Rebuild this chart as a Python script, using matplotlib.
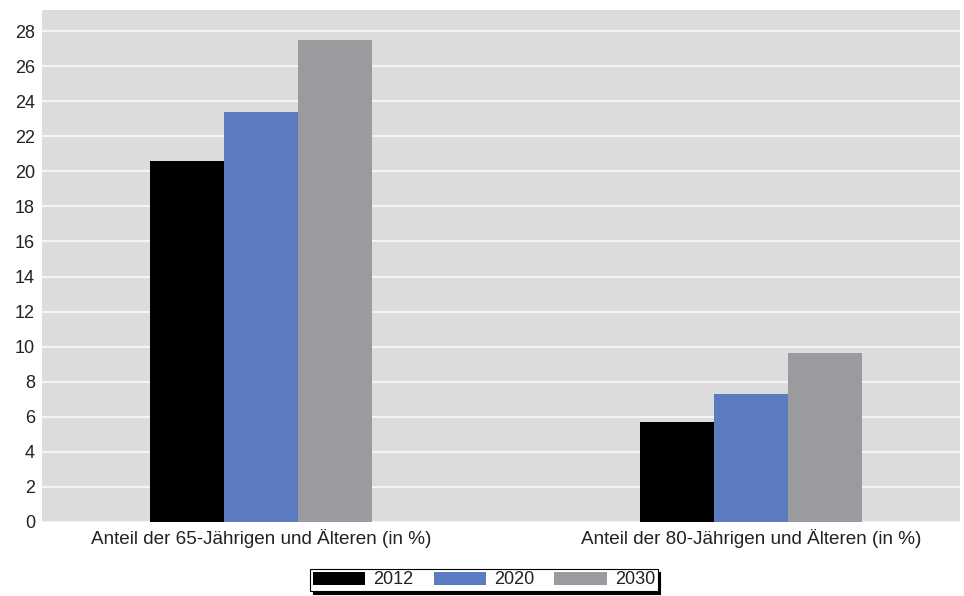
import matplotlib.pyplot as plt
import numpy as np

categories = ["Anteil der 65-Jährigen und Älteren (in %)",
              "Anteil der 80-Jährigen und Älteren (in %)"]
years = ["2012", "2020", "2030"]
values_2012 = [20.6, 5.7]
values_2020 = [23.4, 7.3]
values_2030 = [27.5, 9.65]
yticks = list(range(0, 29, 2))

colors = ["#000000", "#5b7cc0", "#9b9b9f"]

plt.rcParams['font.family'] = ['Liberation Sans', 'DejaVu Sans']

fig = plt.figure(figsize=(9.64, 5.96), dpi=100)
ax = fig.add_axes([42 / 964, 1 - 522 / 596, 918 / 964, 512 / 596])
ax.set_facecolor("#dcdcdc")

x = np.arange(len(categories))
width = 0.151
series = [values_2012, values_2020, values_2030]
for i, (vals, c, lab) in enumerate(zip(series, colors, years)):
    ax.bar(x + (i - 1) * width, vals, width, color=c, label=lab, zorder=3)

ax.set_xlim(-0.447, 1.427)
ax.set_ylim(0, 29.2)
ax.set_yticks(yticks)
ax.set_xticks(x)
ax.set_xticklabels(categories, fontsize=13.6, color="#222222")
ax.tick_params(axis='y', labelsize=13, labelcolor="#222222", length=0, pad=5)
ax.tick_params(axis='x', length=0, pad=5)
ax.yaxis.grid(True, color="#f4f4f4", linewidth=1.6, zorder=1)
ax.set_axisbelow(True)
for s in ax.spines.values():
    s.set_visible(False)

leg = fig.legend(loc="center", bbox_to_anchor=(484 / 964, 1 - 580 / 596),
                 ncol=3, fontsize=13, frameon=True, fancybox=False,
                 shadow={'color': 'black', 'alpha': 1.0}, handlelength=2.9,
                 handleheight=0.75, columnspacing=1.1, handletextpad=0.45,
                 borderpad=0.15, edgecolor="black")
leg.get_frame().set_linewidth(0.8)
for t in leg.get_texts():
    t.set_color("#222222")

fig.savefig("out.png", dpi=100)
